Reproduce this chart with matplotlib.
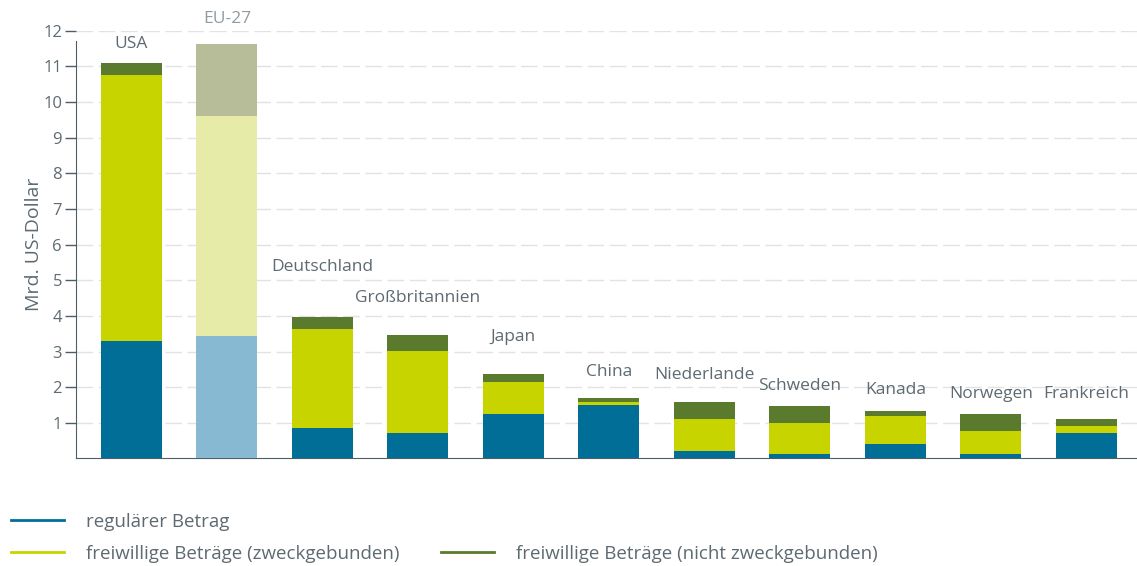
import numpy as np
import matplotlib
matplotlib.use("Agg")
import matplotlib.pyplot as plt
from matplotlib.lines import Line2D

plt.rcParams["font.family"] = ["Open Sans", "DejaVu Sans"]

# Data (Mrd. US-Dollar)
countries = ["USA", "EU-27", "Deutschland", "Großbritannien", "Japan", "China",
             "Niederlande", "Schweden", "Kanada", "Norwegen", "Frankreich"]
regular = [3.29, 3.43, 0.85, 0.71, 1.24, 1.50, 0.21, 0.12, 0.40, 0.12, 0.71]
earmarked = [7.48, 6.17, 2.78, 2.31, 0.91, 0.08, 0.89, 0.87, 0.79, 0.65, 0.20]
unearmarked = [0.33, 2.03, 0.34, 0.44, 0.22, 0.11, 0.48, 0.48, 0.14, 0.48, 0.20]
# heights at which the country names sit
label_y = [11.63, 12.33, 5.37, 4.50, 3.41, 2.43, 2.34, 2.03, 1.92, 1.80, 1.80]

c_blue, c_yellow, c_green = "#006E96", "#C8D400", "#5A7A2E"
c_blue_l, c_yellow_l, c_green_l = "#88B9D3", "#E6EBA8", "#B6BD98"
text_col = "#5E6A71"
axis_col = "#4F5E66"

fig = plt.figure(figsize=(11.37, 5.66), dpi=100)
ax = fig.add_axes([0.0668, 0.19, 0.9332, 0.7558])

x = np.arange(len(countries))
reg = np.array(regular)
ear = np.array(earmarked)
une = np.array(unearmarked)
w = 0.64

for i in x:
    eu = countries[i] == "EU-27"
    cb, cy, cg = (c_blue_l, c_yellow_l, c_green_l) if eu else (c_blue, c_yellow, c_green)
    ax.bar(i, reg[i], w, color=cb, zorder=3)
    ax.bar(i, ear[i], w, bottom=reg[i], color=cy, zorder=3)
    ax.bar(i, une[i], w, bottom=reg[i] + ear[i], color=cg, zorder=3)
    ax.text(i, label_y[i], countries[i], ha="center", va="center", fontsize=12.5,
            color="#8E9BA3" if eu else text_col, clip_on=False)

ax.set_xlim(-0.58, 10.53)
ax.set_ylim(0, 12)
ax.set_yticks(range(1, 13))
ax.set_xticks([])
ax.tick_params(axis="y", length=8, width=1, color=axis_col, labelcolor=text_col,
               labelsize=12, pad=2)
ax.yaxis.grid(True, color="#E2E2E2", linewidth=1, linestyle=(0, (12, 4)), zorder=0)
for s in ["top", "right"]:
    ax.spines[s].set_visible(False)
ax.spines["left"].set_color(axis_col)
ax.spines["bottom"].set_color(axis_col)
ax.spines["left"].set_bounds(0, 11.7)
ax.set_ylabel("Mrd. US-Dollar", fontsize=14, color=text_col, labelpad=0)

handles = [Line2D([], [], color=c_blue, lw=2),
           Line2D([], [], color=c_yellow, lw=2),
           Line2D([], [], color="none"),
           Line2D([], [], color=c_green, lw=2)]
labels = ["regulärer Betrag", "freiwillige Beträge (zweckgebunden)", "",
          "freiwillige Beträge (nicht zweckgebunden)"]
leg = fig.legend(handles, labels, ncol=2, loc="lower left",
                 bbox_to_anchor=(0.0, -0.014), frameon=False, fontsize=13.5,
                 handlelength=2.8, handletextpad=1.2, columnspacing=2.2,
                 labelspacing=0.75, borderaxespad=0.3, borderpad=0.3)
for t in leg.get_texts():
    t.set_color(text_col)

fig.savefig("out.png", dpi=100)
